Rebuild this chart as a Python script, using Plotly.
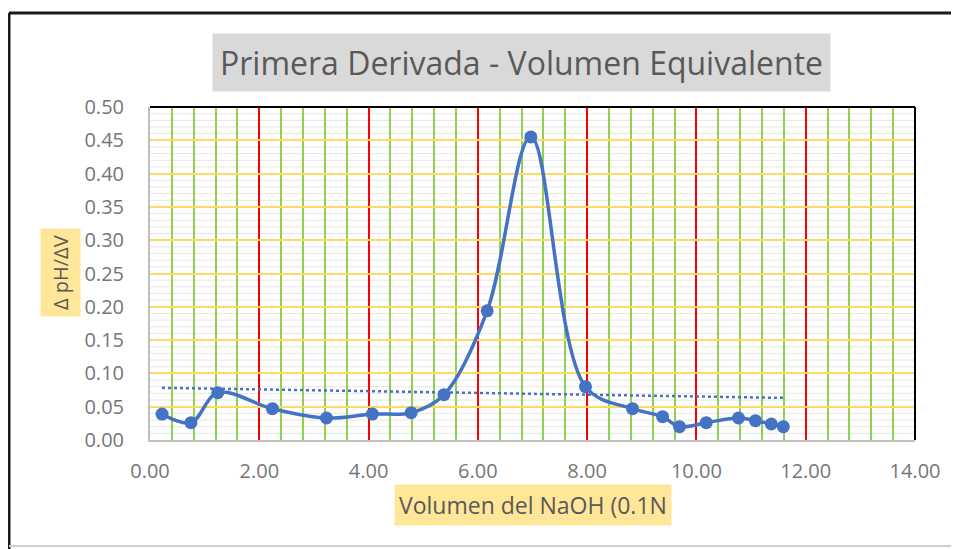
import numpy as np
import plotly.graph_objects as go

# Data
volumen = [0.22, 0.75, 1.24, 2.24, 3.23, 4.07, 4.78, 5.38, 6.17, 6.97,
           7.97, 8.83, 9.38, 9.69, 10.18, 10.77, 11.08, 11.37, 11.59]
dph_dv = [0.039, 0.026, 0.071, 0.047, 0.033, 0.039, 0.041, 0.068, 0.194, 0.455,
          0.080, 0.047, 0.035, 0.020, 0.026, 0.033, 0.029, 0.024, 0.020]

titulo = "Primera Derivada - Volumen Equivalente"
x_titulo = "Volumen del NaOH (0.1N"
y_titulo = "Δ pH/ΔV"

OFF = 8  # page body margin
W, H = 959 - OFF, 549 - OFF
L, R, T, B = 150, 915, 107, 440  # plot area box in page pixels


def px(xp):
    return (xp - L) / (R - L)


def py(yp):
    return (B - yp) / (B - T)


# Linear trend line (least squares from the data)
slope, intercept = np.polyfit(volumen, dph_dv, 1)
trend_x = [min(volumen), max(volumen)]
trend_y = [slope * v + intercept for v in trend_x]

blue = "#4472c4"
fig = go.Figure()
fig.add_trace(go.Scatter(
    x=volumen, y=dph_dv, mode="lines+markers",
    line=dict(color=blue, width=3.5, shape="spline", smoothing=1.0),
    marker=dict(color=blue, size=13),
    showlegend=False, cliponaxis=False))
fig.add_trace(go.Scatter(
    x=trend_x, y=trend_y, mode="lines",
    line=dict(color=blue, width=2.5, dash="dot"),
    showlegend=False))

tickfont = dict(family="Open Sans, Liberation Sans, sans-serif", size=20, color="#767676")

fig.update_layout(
    width=W, height=H,
    margin=dict(l=L - OFF, r=959 - R, t=T - OFF, b=549 - B),
    paper_bgcolor="white", plot_bgcolor="white",
    xaxis=dict(range=[0, 14], tickmode="linear", tick0=0, dtick=2,
               tickformat=".2f", tickfont=tickfont,
               showgrid=True, gridcolor="#ff0000", gridwidth=2,
               minor=dict(dtick=0.4, showgrid=True, gridcolor="#92d050", gridwidth=2),
               showline=True, linecolor="#bfbfbf", linewidth=2,
               zeroline=False, ticks="", ticklabelstandoff=12),
    yaxis=dict(range=[0, 0.5], tickmode="linear", tick0=0, dtick=0.05,
               tickformat=".2f", tickfont=tickfont,
               showgrid=True, gridcolor="#ffd966", gridwidth=2,
               showline=True, linecolor="#bfbfbf", linewidth=2,
               zeroline=False, ticks="", ticklabelstandoff=20),
)

shapes = []
# faint minor horizontal lines every 0.01, drawn beneath the gridlines
for v in np.arange(0.01, 0.5, 0.01):
    if abs(v / 0.05 - round(v / 0.05)) > 1e-6:
        shapes.append(dict(type="line", xref="paper", yref="y", x0=0, x1=1, y0=v, y1=v,
                           layer="below", line=dict(color="#e6e6e6", width=1)))
shapes += [
    # black top and right lines of plot area
    dict(type="line", xref="paper", yref="paper", x0=0, x1=1, y0=1, y1=1,
         line=dict(color="black", width=2)),
    dict(type="line", xref="paper", yref="paper", x0=1, x1=1, y0=0, y1=1,
         line=dict(color="black", width=2)),
    # outer frame
    dict(type="line", xref="paper", yref="paper", x0=px(9), x1=px(960), y0=py(13), y1=py(13),
         line=dict(color="#1a1a1a", width=3)),
    dict(type="line", xref="paper", yref="paper", x0=px(9), x1=px(9), y0=py(13), y1=py(549),
         line=dict(color="#1a1a1a", width=3)),
    dict(type="line", xref="paper", yref="paper", x0=px(9), x1=px(960), y0=py(546), y1=py(546),
         line=dict(color="#d0d0d0", width=2)),
]
fig.update_layout(shapes=shapes)

annotations = [
    dict(text=titulo, xref="paper", yref="paper", x=px(521), y=py(62),
         xanchor="center", yanchor="middle",
         showarrow=False, bgcolor="#d9d9d9", borderpad=7,
         font=dict(family="Open Sans, sans-serif", size=32, color="#595959")),
    dict(text=x_titulo, xref="paper", yref="paper", x=px(533), y=py(505),
         xanchor="center", yanchor="middle",
         showarrow=False, bgcolor="#ffe699", borderpad=4,
         font=dict(family="Open Sans, sans-serif", size=23, color="#595959")),
    dict(text=y_titulo, xref="paper", yref="paper", x=px(60), y=py(273),
         xanchor="center", yanchor="middle",
         showarrow=False, bgcolor="#ffe699", borderpad=6, textangle=-90,
         font=dict(family="Open Sans, sans-serif", size=20, color="#595959")),
]
fig.update_layout(annotations=annotations)

fig.write_html("out.html")
